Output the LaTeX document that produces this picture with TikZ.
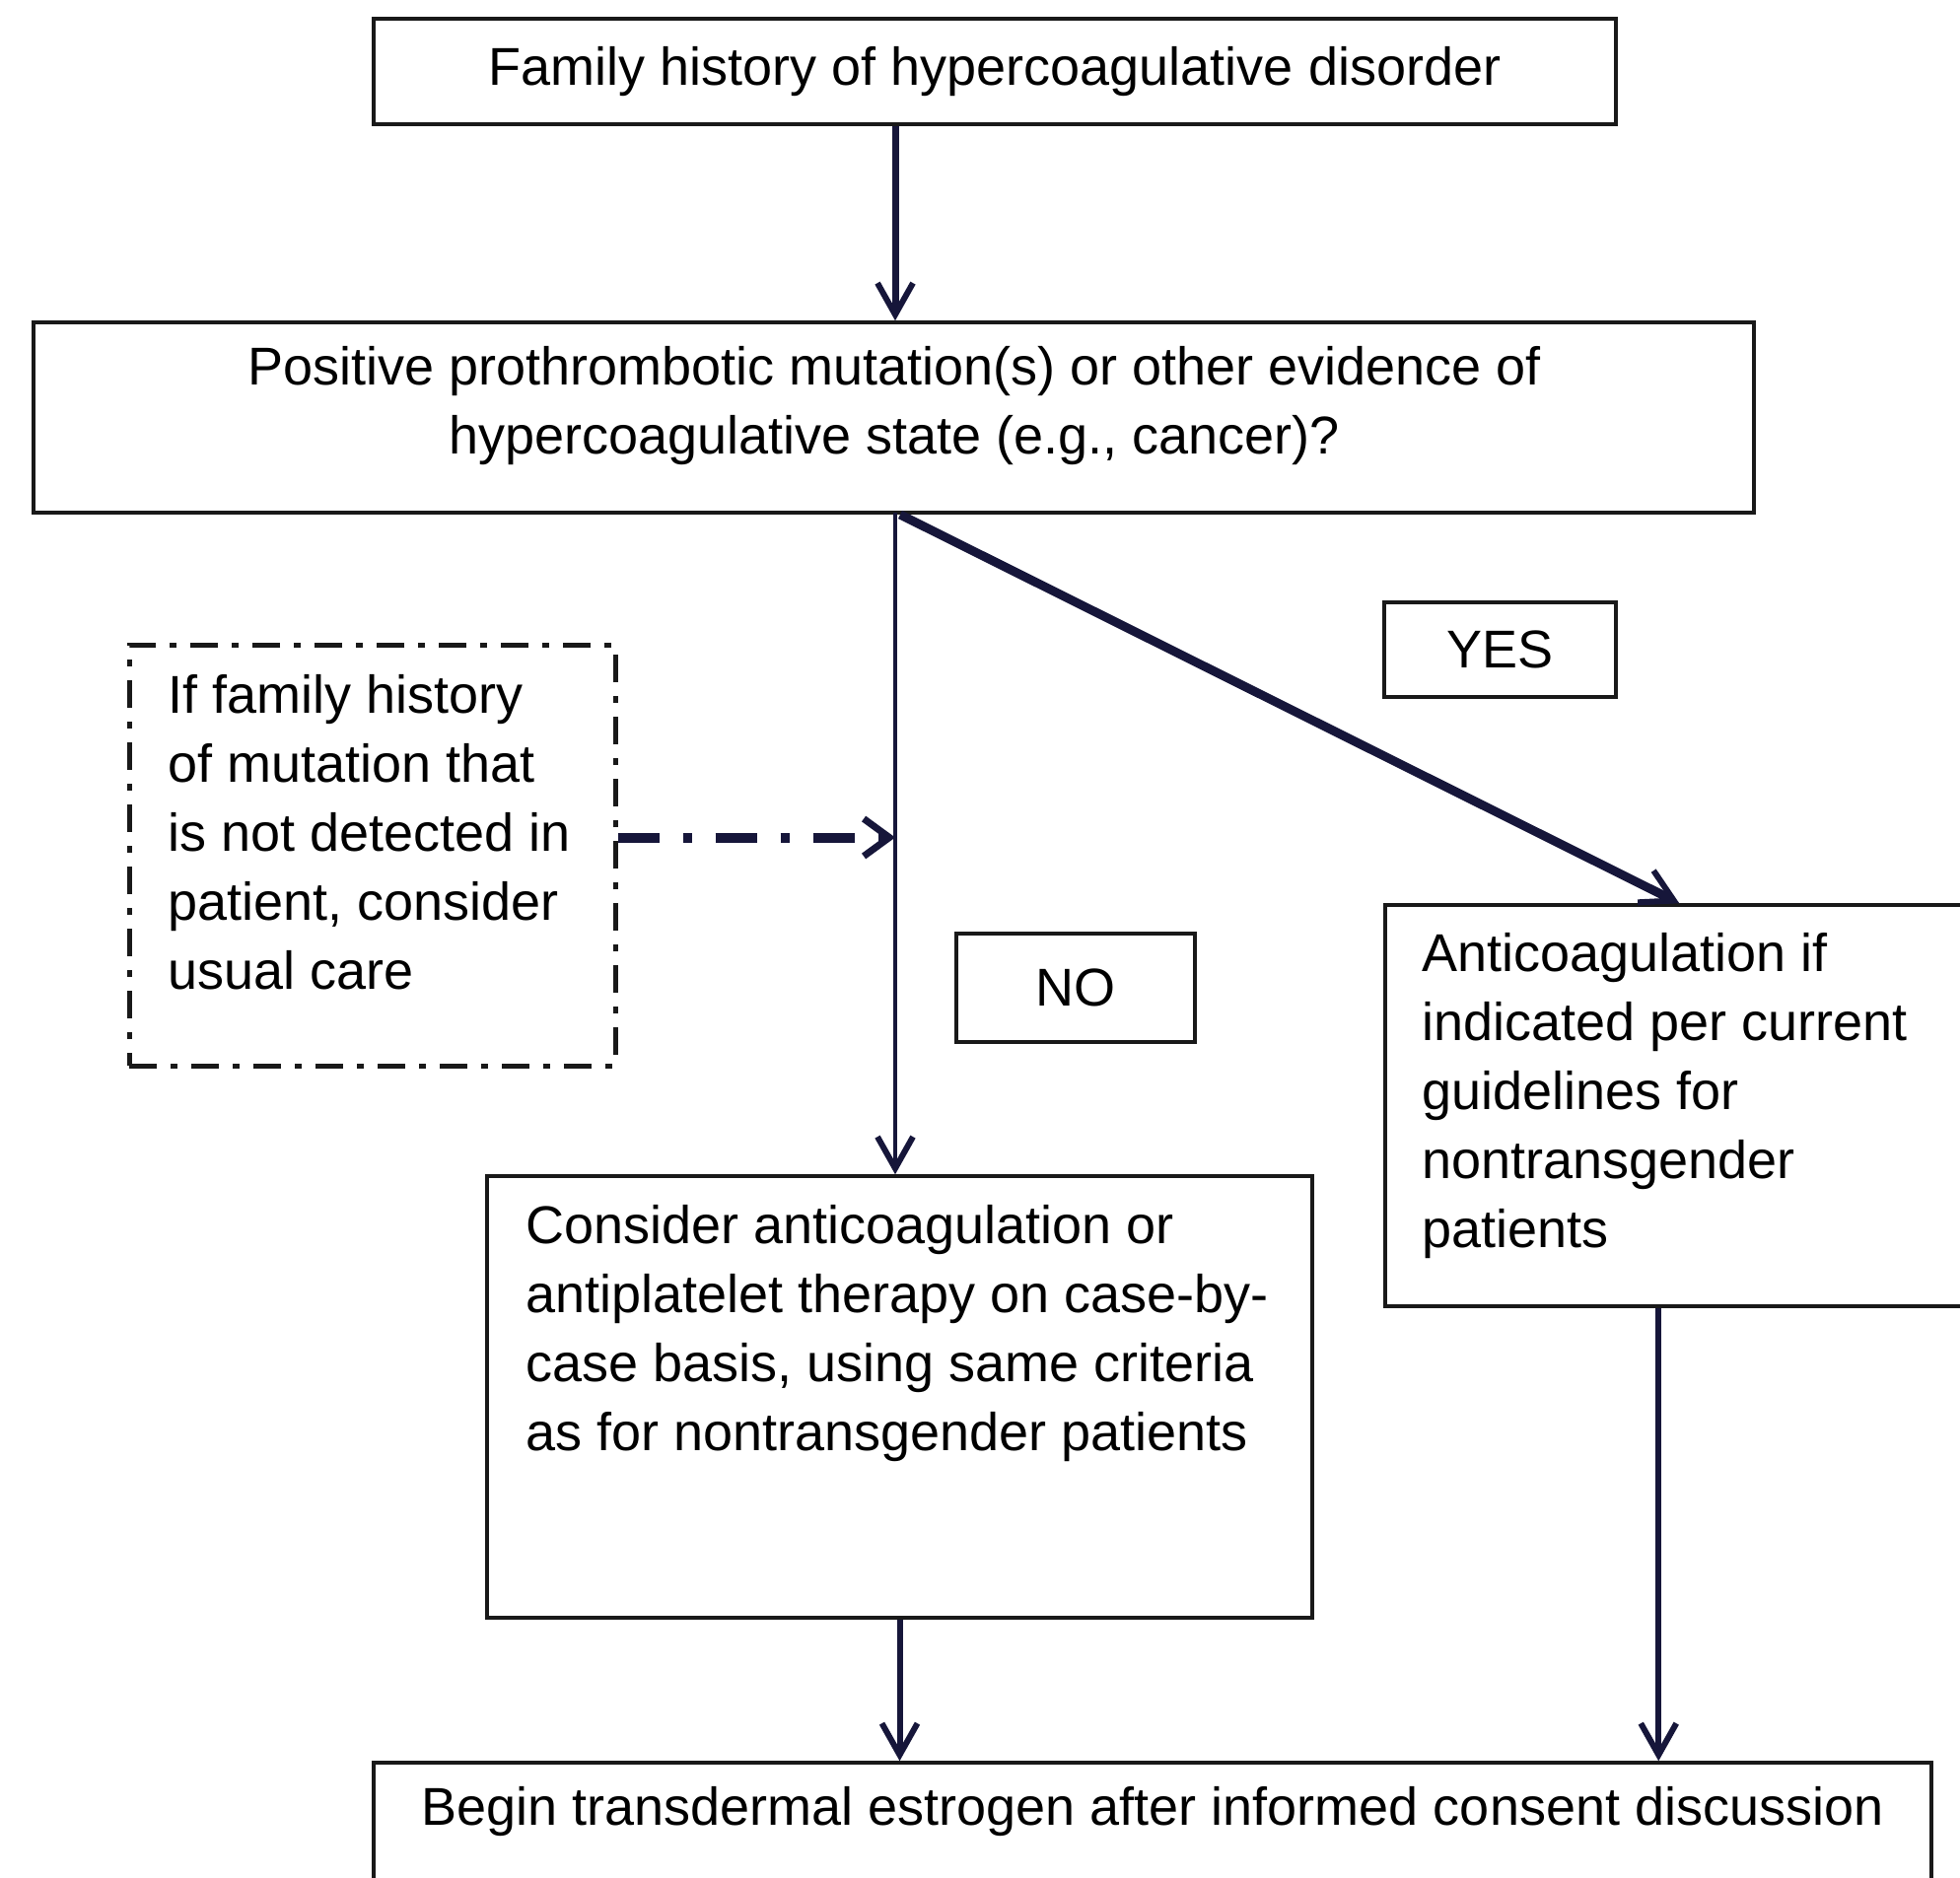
\documentclass[tikz,border=0pt]{standalone}
\usepackage{fontspec}
\setmainfont{Liberation Sans}
\usetikzlibrary{arrows.meta,calc}
\definecolor{navy}{HTML}{16163A}
\begin{document}
\begin{tikzpicture}[x=1pt,y=-1pt,
  box/.style={draw=black!90, line width=3.5pt, inner sep=0pt, font=\fontsize{54}{70}\selectfont},
  dbox/.style={draw=black!90, line width=5pt, inner sep=0pt, dash pattern=on 28pt off 14pt on 7pt off 14pt},
  txt/.style={inner sep=0pt, align=left, anchor=north west, font=\fontsize{54}{70}\selectfont},
  ctxt/.style={inner sep=0pt, align=center, font=\fontsize{54}{70}\selectfont},
  arr/.style={draw=navy, line width=6pt, -{Straight Barb[length=32pt,width=36pt,line width=6pt]}},
  darr/.style={draw=navy, line width=10pt, dash pattern=on 42pt off 24pt on 9pt off 24pt, -{Straight Barb[length=26pt,width=38pt,line width=7pt]}},
]
\useasboundingbox (0,0) rectangle (1988,1905);
\fill[white] (0,0) rectangle (1988,1905);
\clip (0,0) rectangle (1988,1905);

\node[box, minimum width=1260pt, minimum height=107pt] (top) at (1009,72.5) {Family history of hypercoagulative disorder};
\node[box, minimum width=1745pt, minimum height=193pt] (q) at (906.5,423.5) {};
\node[ctxt] (qtext) at (907,412) {Positive prothrombotic mutation(s) or other evidence of\\hypercoagulative state (e.g., cancer)?};
\node[box, minimum width=235pt, minimum height=96pt] (yes) at (1521.5,659) {YES};
\node[box, minimum width=242pt, minimum height=110pt] (no) at (1091,1002) {NO};
\node[dbox, minimum width=493pt, minimum height=427pt] (dash) at (377.5,867.5) {};
\node[txt] (dashtext) at (170,684) {If family history\\of mutation that\\is not detected in\\patient, consider\\usual care};
\node[box, minimum width=837pt, minimum height=448pt] (consider) at (912.5,1417) {};
\node[txt] (considertext) at (533,1222) {Consider anticoagulation or\\antiplatelet therapy on case-by-\\case basis, using same criteria\\as for nontransgender patients};
\node[box, minimum width=605pt, minimum height=407pt] (right) at (1707.5,1121.5) {};
\node[txt] (righttext) at (1442,946) {Anticoagulation if\\indicated per current\\guidelines for\\nontransgender\\patients};
\node[box, minimum width=1580pt, minimum height=137pt] (bottom) at (1169,1856.5) {};
\node[ctxt] (bottomtext) at (1169,1838) {Begin transdermal estrogen after informed consent discussion};

\coordinate (s) at (908,520);
\coordinate (s2) at (913,522);
\coordinate (rt) at ($(right.north west)+(300,0)$);
\coordinate (rb) at ($(right.south west)+(279,0)$);
\coordinate (da) at ($(dash.east)+(0,-18)$);

\draw[arr, line width=7pt] (top.south -| s) -- (q.north -| s);
\draw[arr, line width=4.5pt] (s) -- (consider.north -| s);
\draw[arr, line width=9pt] (s2) -- (rt);
\draw[darr] (da) -- (da -| s);
\draw[arr] (consider.south) -- (bottom.north -| consider.south);
\draw[arr] (rb) -- (bottom.north -| rb);
\end{tikzpicture}
\end{document}
